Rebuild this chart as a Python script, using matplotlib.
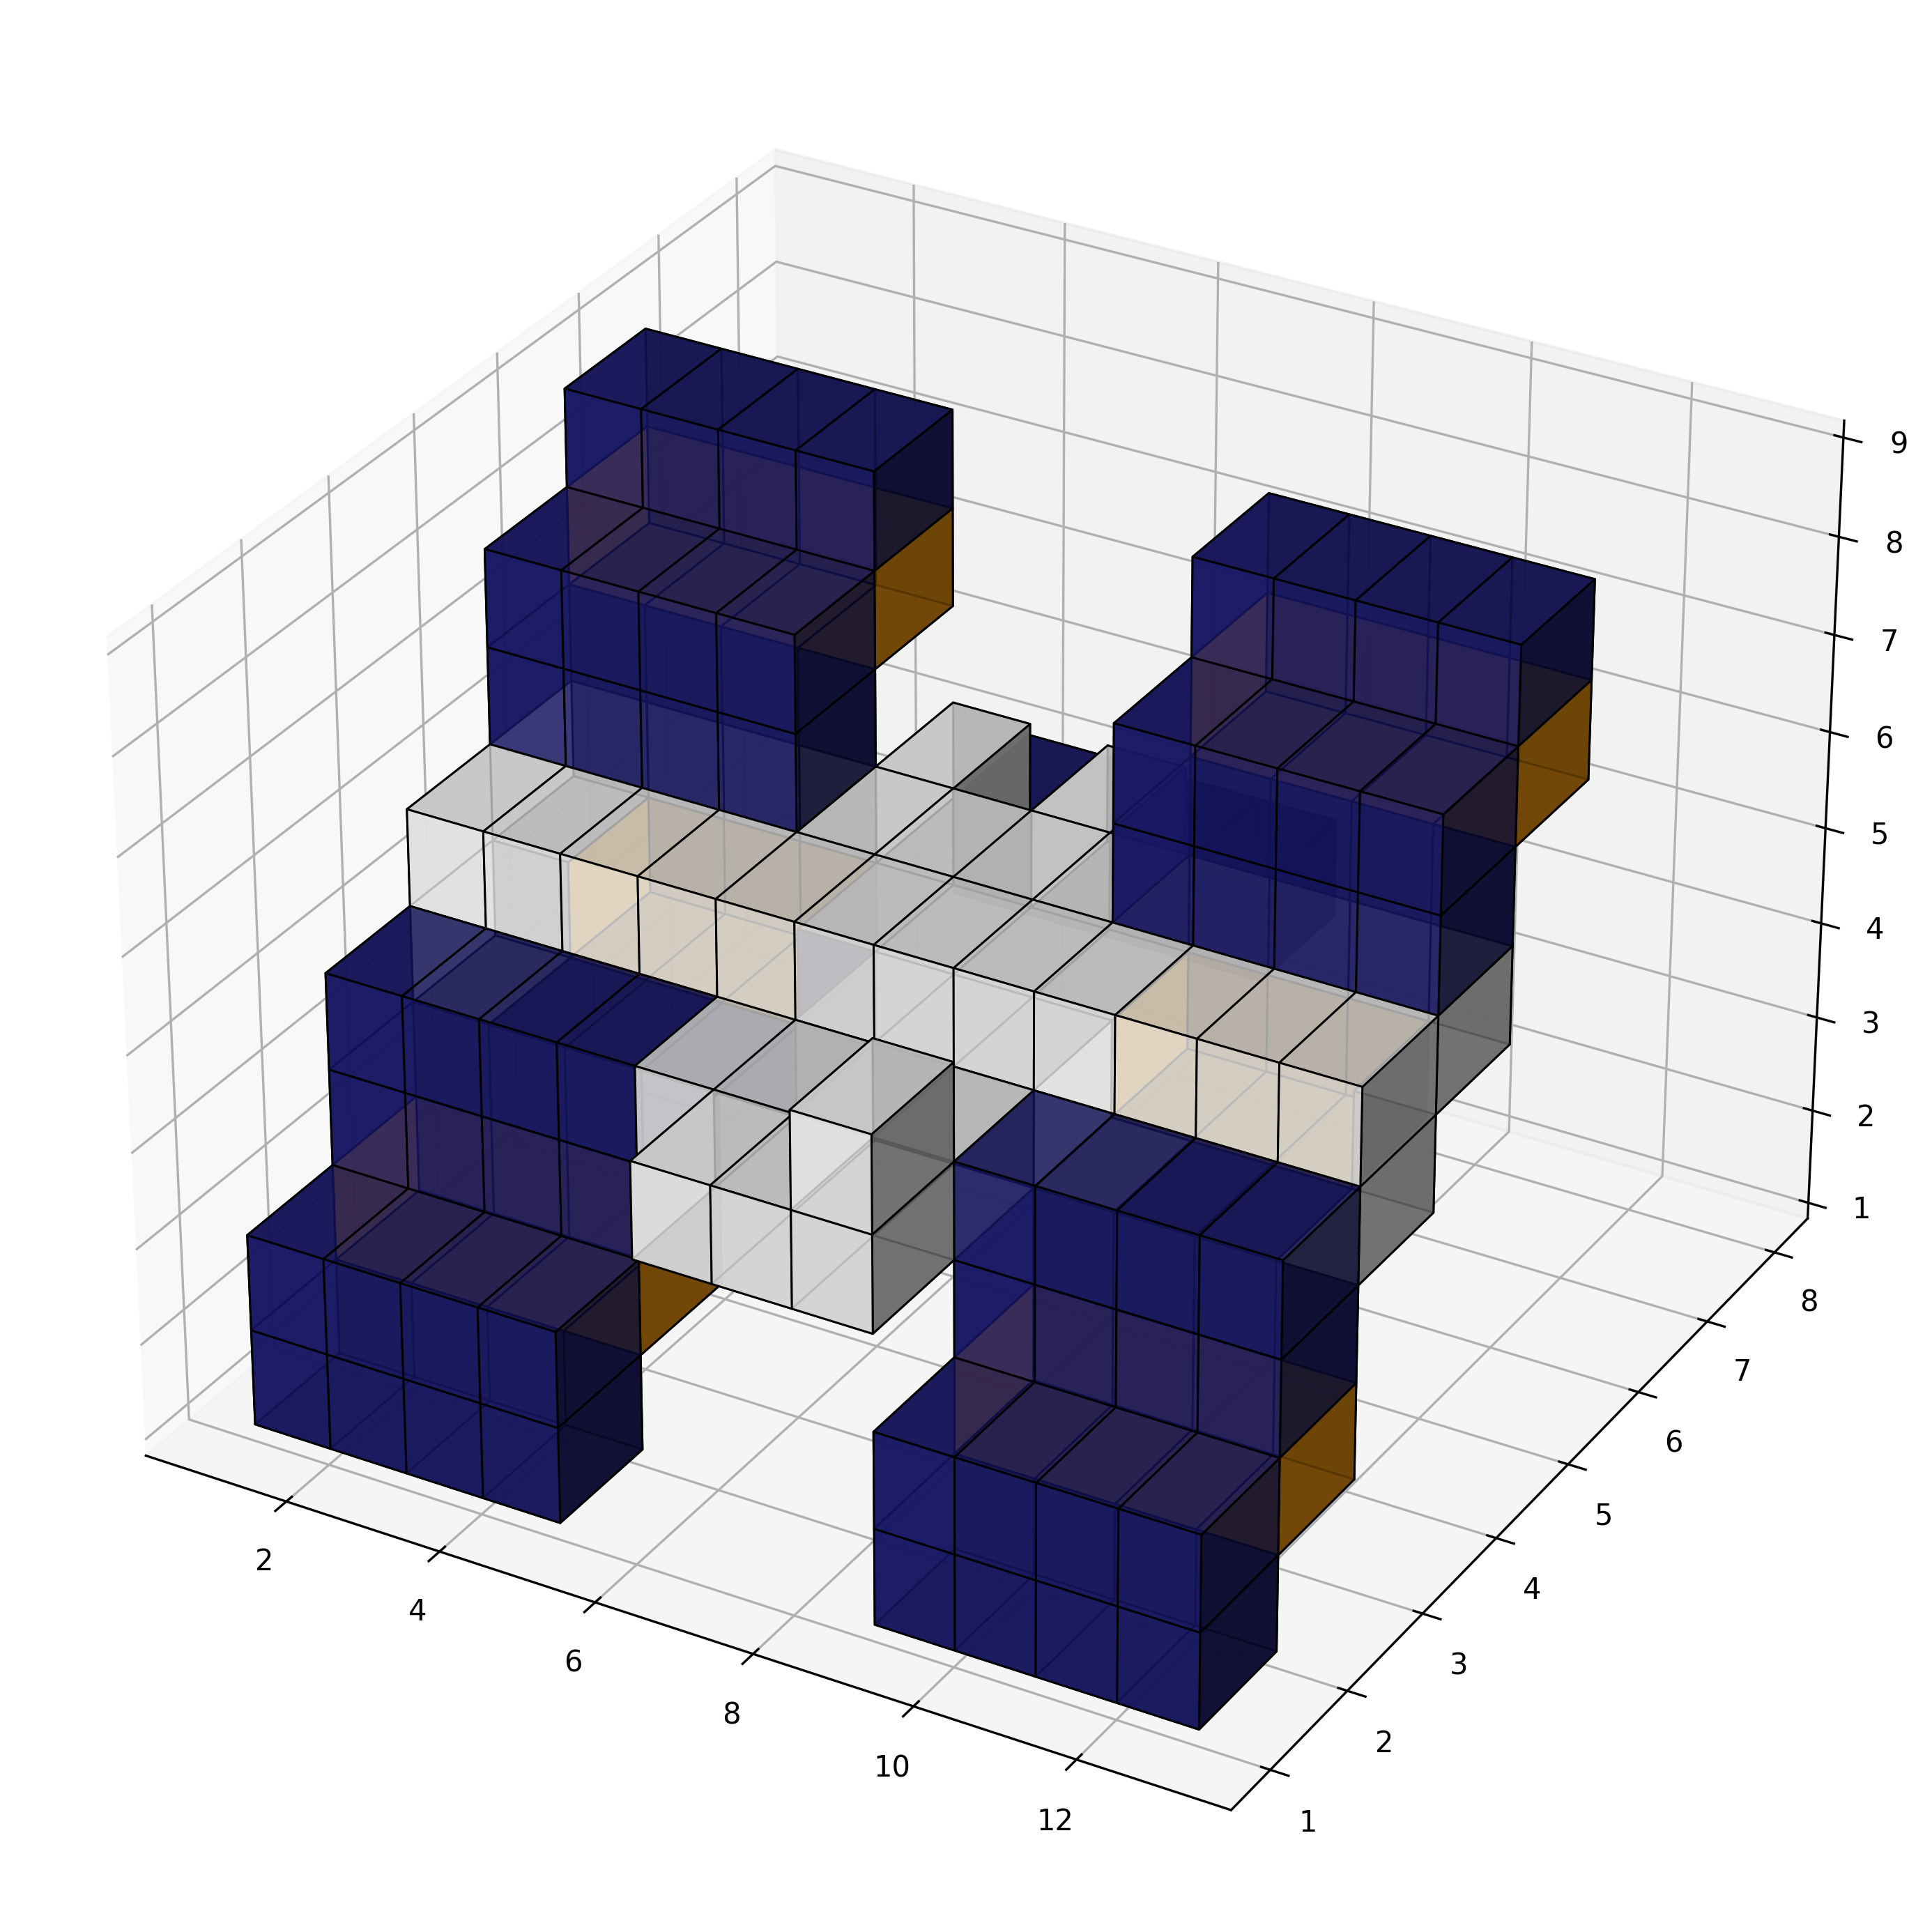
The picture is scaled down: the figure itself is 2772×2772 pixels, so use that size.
import numpy as np
import matplotlib
matplotlib.use("Agg")
import matplotlib.pyplot as plt

# voxel layout: (x0, x1, y0, y1, z0, z1, colour key), half open cell ranges
boxes = [
    # front left leg
    (0, 4, 0, 1, 0, 2, "navy"),
    (0, 4, 1, 2, 1, 2, "orange"),
    (0, 4, 1, 2, 2, 4, "navy"),
    # front right leg
    (8, 12, 0, 1, 0, 2, "navy"),
    (8, 12, 1, 2, 1, 2, "orange"),
    (8, 12, 1, 2, 2, 4, "navy"),
    # back left leg
    (0, 4, 3, 4, 5, 7, "navy"),
    (0, 4, 4, 5, 6, 7, "orange"),
    (0, 4, 4, 5, 7, 8, "navy"),
    # back right leg
    (8, 12, 3, 4, 5, 7, "navy"),
    (8, 12, 4, 5, 6, 7, "orange"),
    (8, 12, 4, 5, 7, 8, "navy"),
    # beam
    (0, 12, 2, 3, 4, 5, "white"),
    (0, 1, 2, 3, 3, 4, "white"),
    (8, 9, 2, 3, 3, 4, "white"),
    (11, 12, 2, 3, 3, 4, "white"),
    (0, 4, 3, 4, 4, 5, "white"),
    (8, 12, 3, 4, 4, 5, "white"),
    # centre pieces
    (5, 8, 0, 1, 3, 4, "white"),
    (7, 8, 0, 1, 4, 5, "white"),
    (4, 8, 1, 2, 3, 4, "white"),
    (4, 8, 3, 4, 4, 5, "white"),
    (4, 5, 4, 5, 4, 5, "white"),
    (6, 7, 4, 5, 4, 5, "white"),
    # hidden under the beam
    (1, 5, 2, 3, 3, 4, "navy"),
    (9, 11, 2, 3, 3, 4, "navy"),
    (1, 4, 3, 4, 3, 4, "orange"),
    (8, 11, 3, 4, 3, 4, "orange"),
    (4, 8, 5, 6, 3, 4, "navy"),
]
colors = {"navy": "#191970", "orange": "#ff9900", "white": "#ffffff"}

xlim = (0.14, 13.87)
ylim = (0.5, 8.5)
zlim = (0.83, 9.17)
origin = (0.47, 1.47, 0.5)
cell = 1.008

filled = np.zeros((12, 7, 8), dtype=bool)
face = np.empty(filled.shape, dtype=object)
for x0, x1, y0, y1, z0, z1, key in boxes:
    filled[x0:x1, y0:y1, z0:z1] = True
    face[x0:x1, y0:y1, z0:z1] = colors[key]

xe, ye, ze = np.indices(np.array(filled.shape) + 1, dtype=float) * cell
xe += origin[0]
ye += origin[1]
ze += origin[2]

fig = plt.figure(figsize=(9.24, 9.24), dpi=300)
ax = fig.add_axes([0, 0, 1, 1], projection="3d")
ax.voxels(xe, ye, ze, filled, facecolors=face, edgecolor="k", linewidth=0.7, alpha=0.83)
ax.set_xlim(*xlim)
ax.set_ylim(*ylim)
ax.set_zlim(*zlim)
ax.set_xticks([2, 4, 6, 8, 10, 12])
ax.set_yticks(range(1, 9))
ax.set_zticks(range(1, 10))
fig.savefig("out.png", dpi=300)
